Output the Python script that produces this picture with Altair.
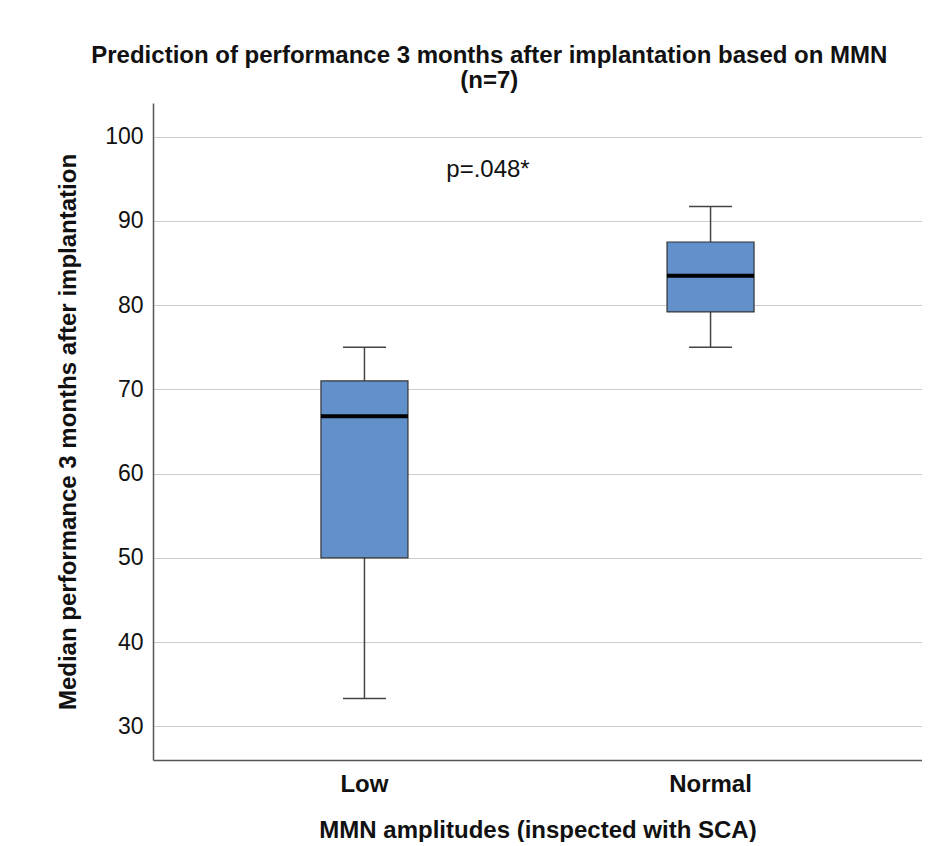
import altair as alt
import pandas as pd

groups = ["Low", "Normal"]
whisker_low = [33.3, 75.0]
q1 = [50.0, 79.2]
median = [66.8, 83.5]
q3 = [71.0, 87.5]
whisker_high = [75.0, 91.7]

annot_text = ["p=.048*"]
annot_y = [96.0]

df = pd.DataFrame({
    "group": groups,
    "wlo": whisker_low,
    "q1": q1,
    "med": median,
    "q3": q3,
    "whi": whisker_high,
})
ann = pd.DataFrame({"label": annot_text, "y": annot_y})

FONT = "Liberation Sans"
ydom = [26, 104]

xenc = alt.X(
    "group:N",
    sort=groups,
    scale=alt.Scale(paddingInner=0, paddingOuter=0.111),
    axis=alt.Axis(
        title="MMN amplitudes (inspected with SCA)",
        labelAngle=0,
        labelFontSize=24,
        labelFontWeight="bold",
        labelFont=FONT,
        labelColor="#111",
        labelPadding=12,
        ticks=False,
        grid=False,
        domainColor="#555",
        domainWidth=1.5,
        titleFontSize=24,
        titleFontWeight="bold",
        titleFont=FONT,
        titleColor="#111",
        titlePadding=22,
    ),
)

yscale = alt.Scale(domain=ydom, nice=False, zero=False)
yaxis = alt.Axis(
    title="Median performance 3 months after implantation",
    values=[30, 40, 50, 60, 70, 80, 90, 100],
    labelFontSize=23,
    labelFont=FONT,
    labelColor="#111",
    labelPadding=10,
    ticks=False,
    grid=True,
    gridColor="#cccccc",
    gridWidth=1.2,
    domainColor="#555",
    domainWidth=1.5,
    titleFontSize=24,
    titleFontWeight="bold",
    titleFont=FONT,
    titleColor="#111",
    titlePadding=24,
)

base = alt.Chart(df).encode(x=xenc)

whisk = base.mark_rule(color="#444", strokeWidth=1.5).encode(
    y=alt.Y("wlo:Q", scale=yscale, axis=yaxis), y2="whi:Q"
)
box = base.mark_bar(size=87, fill="#6190cb", stroke="#333", strokeWidth=1.2).encode(
    y="q1:Q", y2="q3:Q"
)
med = base.mark_tick(size=87, thickness=4, color="#000", opacity=1).encode(y="med:Q")
cap_lo = base.mark_tick(size=43, thickness=1.5, color="#444", opacity=1).encode(y="wlo:Q")
cap_hi = base.mark_tick(size=43, thickness=1.5, color="#444", opacity=1).encode(y="whi:Q")

text = alt.Chart(ann).mark_text(fontSize=24, font=FONT, color="#111").encode(
    x=alt.value(335), y=alt.Y("y:Q", scale=yscale), text="label:N"
)

chart = (
    alt.layer(whisk, box, med, cap_lo, cap_hi, text)
    .properties(
        width=769,
        height=657,
        padding={"left": 48, "top": 36, "right": 0, "bottom": 0},
        title=alt.Title(
            ["Prediction of performance 3 months after implantation based on MMN", "(n=7)"],
            fontSize=24,
            fontWeight="bold",
            font=FONT,
            color="#111",
            anchor="middle",
            frame="bounds",
            lineHeight=25,
            offset=10,
        ),
    )
    .configure_view(strokeWidth=0)
)

chart.save("out.html", embed_options={"renderer": "svg", "actions": False})
